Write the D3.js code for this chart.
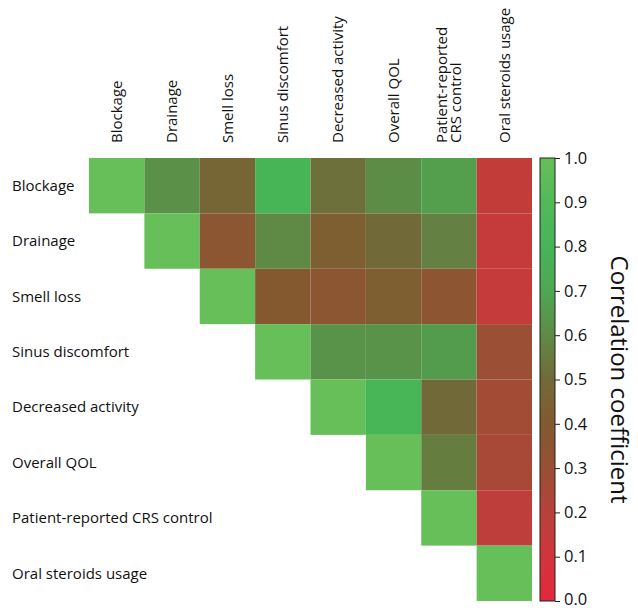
<!DOCTYPE html>
<html>
<head>
<meta charset="utf-8">
<script src="https://cdn.jsdelivr.net/npm/d3@7/dist/d3.min.js"></script>
<style>
  html, body { margin: 0; padding: 0; background: #fff; }
  svg { display: block; }
  text { font-family: "Open Sans", "Noto Sans", sans-serif; fill: #111; }
</style>
</head>
<body>
<svg id="chart" width="638" height="610"></svg>
<script>
// ---- data ----
const variables = [
  "Blockage",
  "Drainage",
  "Smell loss",
  "Sinus discomfort",
  "Decreased activity",
  "Overall QOL",
  "Patient-reported CRS control",
  "Oral steroids usage"
];
// column header labels (multi-line where wrapped in the original)
const columnLabels = [
  ["Blockage"],
  ["Drainage"],
  ["Smell loss"],
  ["Sinus discomfort"],
  ["Decreased activity"],
  ["Overall QOL"],
  ["Patient-reported", "CRS control"],
  ["Oral steroids usage"]
];
// upper-triangle correlation rows (row i starts at column i)
const rowBlockage      = [1.00, 0.62, 0.47, 0.79, 0.52, 0.61, 0.67, 0.16];
const rowDrainage      = [1.00, 0.36, 0.60, 0.43, 0.50, 0.57, 0.15];
const rowSmellLoss     = [1.00, 0.39, 0.36, 0.43, 0.35, 0.15];
const rowSinus         = [1.00, 0.63, 0.63, 0.66, 0.29];
const rowDecreased     = [1.00, 0.82, 0.50, 0.27];
const rowOverallQOL    = [1.00, 0.56, 0.25];
const rowCRSControl    = [1.00, 0.18];
const rowOralSteroids  = [1.00];
const upperRows = [rowBlockage, rowDrainage, rowSmellLoss, rowSinus,
                   rowDecreased, rowOverallQOL, rowCRSControl, rowOralSteroids];

const colorbarTicks = [0.0, 0.1, 0.2, 0.3, 0.4, 0.5, 0.6, 0.7, 0.8, 0.9, 1.0];
const colorStops = [0.0, 0.1, 0.2, 0.3, 0.4, 0.5, 0.6, 0.7, 0.8, 0.9, 1.0];
const colorValues = ["#e4283b", "#d2343b", "#b8413a", "#985034", "#835a2f",
                     "#716a38", "#5e8a46", "#4ea852", "#46b556", "#52b958", "#66bf58"];
const colorbarTitle = "Correlation coefficient";

// ---- build cells ----
const cells = [];
upperRows.forEach((row, i) => {
  row.forEach((v, k) => {
    cells.push({ row: variables[i], col: variables[i + k], value: v });
  });
});

// ---- layout ----
const svg = d3.select("#chart");
const gridLeft = 89, gridTop = 158, gridSize = 443;

const x = d3.scaleBand().domain(variables).range([gridLeft, gridLeft + gridSize]);
const y = d3.scaleBand().domain(variables).range([gridTop, gridTop + gridSize]);
const color = d3.scaleLinear().domain(colorStops).range(colorValues)
  .interpolate(d3.interpolateRgb).clamp(true);

// cells
svg.append("g").selectAll("rect")
  .data(cells)
  .join("rect")
  .attr("x", d => x(d.col))
  .attr("y", d => y(d.row))
  .attr("width", x.bandwidth())
  .attr("height", y.bandwidth())
  .attr("fill", d => color(d.value));

// row labels
svg.append("g").selectAll("text")
  .data(variables)
  .join("text")
  .attr("x", 12)
  .attr("y", d => y(d) + y.bandwidth() / 2)
  .attr("dy", "0.35em")
  .attr("font-size", 15)
  .text(d => d);

// column labels (rotated)
const colG = svg.append("g");
variables.forEach((v, i) => {
  const lines = columnLabels[i];
  const cx = x(v) + x.bandwidth() / 2;
  const lh = 14;
  const t = colG.append("text")
    .attr("transform", `translate(${cx},143) rotate(-90)`)
    .attr("font-size", 15);
  lines.forEach((ln, j) => {
    t.append("tspan")
      .attr("x", 0)
      .attr("y", (j - (lines.length - 1) / 2) * lh)
      .attr("dy", "0.35em")
      .text(ln);
  });
});

// ---- colorbar ----
const cbLeft = 540, cbWidth = 15;
const cbScale = d3.scaleLinear().domain([0, 1]).range([gridTop + gridSize, gridTop]);
const defs = svg.append("defs");
const grad = defs.append("linearGradient")
  .attr("id", "cbgrad")
  .attr("x1", "0").attr("y1", "1").attr("x2", "0").attr("y2", "0");
colorStops.forEach((s, i) => {
  grad.append("stop").attr("offset", s).attr("stop-color", colorValues[i]);
});
svg.append("rect")
  .attr("x", cbLeft)
  .attr("y", cbScale(1))
  .attr("width", cbWidth)
  .attr("height", cbScale(0) - cbScale(1))
  .attr("fill", "url(#cbgrad)")
  .attr("stroke", "#222")
  .attr("stroke-width", 1);

const cbAxis = d3.axisRight(cbScale)
  .tickValues(colorbarTicks)
  .tickFormat(d3.format(".1f"))
  .tickSize(5)
  .tickPadding(4);
const axG = svg.append("g")
  .attr("transform", `translate(${cbLeft + cbWidth},0)`)
  .call(cbAxis);
axG.select(".domain").remove();
axG.selectAll(".tick line").attr("stroke", "#222");
axG.selectAll(".tick text")
  .attr("font-size", 16.5)
  .attr("fill", "#111")
  .attr("dy", d => d === 0 ? "0.2em" : "0.32em")
  .style("font-family", '"Open Sans", sans-serif');

svg.append("text")
  .attr("transform", `translate(611,${(cbScale(0) + cbScale(1)) / 2}) rotate(90)`)
  .attr("text-anchor", "middle")
  .attr("font-size", 24)
  .text(colorbarTitle);
</script>
</body>
</html>
